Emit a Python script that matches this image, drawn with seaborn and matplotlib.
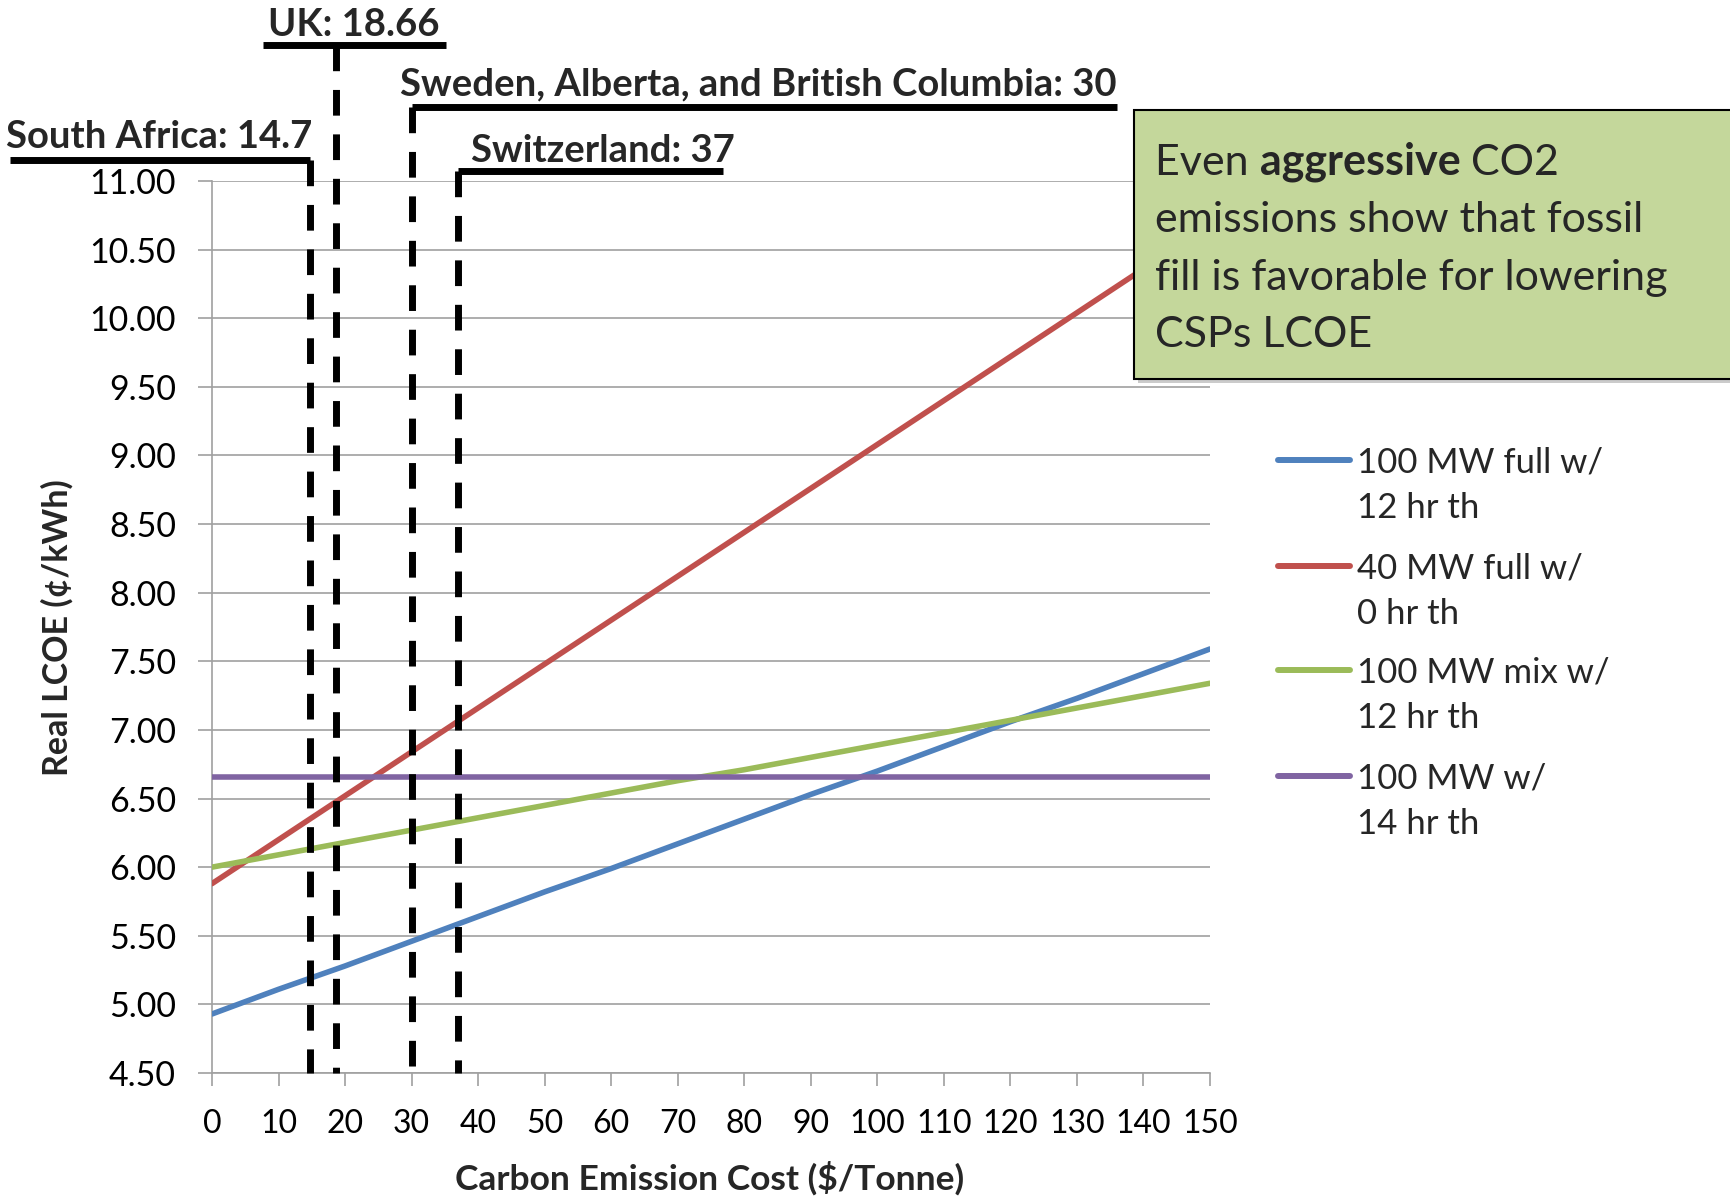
import matplotlib
matplotlib.use("Agg")
import matplotlib.pyplot as plt
import seaborn as sns
import pandas as pd
import numpy as np
from matplotlib.lines import Line2D
from matplotlib.patches import Rectangle
from matplotlib.ticker import FormatStrFormatter

# Carbon emission cost ($/tonne) and real LCOE (cents/kWh) for each plant configuration
carbon_cost = [0, 10, 20, 30, 40, 50, 60, 70, 80, 90, 100, 110, 120, 130, 140, 150]
lcoe_100mw_full_12hr = [4.93, 5.11, 5.28, 5.46, 5.64, 5.82, 5.99, 6.17, 6.35, 6.53, 6.70, 6.88, 7.06, 7.23, 7.41, 7.59]
lcoe_40mw_full_0hr = [5.88, 6.20, 6.52, 6.84, 7.16, 7.48, 7.80, 8.12, 8.44, 8.76, 9.08, 9.40, 9.72, 10.04, 10.36, 10.68]
lcoe_100mw_mix_12hr = [6.00, 6.09, 6.18, 6.27, 6.36, 6.45, 6.54, 6.63, 6.71, 6.80, 6.89, 6.98, 7.07, 7.16, 7.25, 7.34]
lcoe_100mw_14hr = [6.66, 6.66, 6.66, 6.66, 6.66, 6.66, 6.66, 6.66, 6.66, 6.66, 6.66, 6.66, 6.66, 6.66, 6.66, 6.66]

series_names = ["100 MW full w/\n12 hr th", "40 MW full w/\n0 hr th",
                "100 MW mix w/\n12 hr th", "100 MW w/\n14 hr th"]
series_colors = ["#4F81BD", "#C0504D", "#9BBB59", "#8064A2"]

# Carbon prices in force in several jurisdictions
policy_labels = ["South Africa: 14.7", "UK: 18.66",
                 "Sweden, Alberta, and British Columbia: 30", "Switzerland: 37"]
policy_prices = [14.7, 18.66, 30, 37]

y_ticks = [4.5, 5.0, 5.5, 6.0, 6.5, 7.0, 7.5, 8.0, 8.5, 9.0, 9.5, 10.0, 10.5, 11.0]
x_ticks = carbon_cost

note_lines = ["emissions show that fossil", "fill is favorable for lowering", "CSPs LCOE"]

# ---------------------------------------------------------------- styling
sns.set_theme(style="white")
plt.rcParams["font.family"] = ["Lato", "DejaVu Sans"]

W, H = 1730, 1203
fig = plt.figure(figsize=(W / 100, H / 100), dpi=100)
fig.patch.set_facecolor("white")


def fx(px):
    return px / W


def fy(py):
    return 1 - py / H


ax_l, ax_r, ax_t, ax_b = 212, 1210, 181, 1073
ax = fig.add_axes([fx(ax_l), fy(ax_b), fx(ax_r - ax_l), (ax_b - ax_t) / H])
ax.set_facecolor("white")

grid_col = "#A0A0A0"

frames = []
for name, vals in zip(series_names,
                      [lcoe_100mw_full_12hr, lcoe_40mw_full_0hr,
                       lcoe_100mw_mix_12hr, lcoe_100mw_14hr]):
    frames.append(pd.DataFrame({"cost": carbon_cost, "lcoe": vals, "series": name}))
df = pd.concat(frames, ignore_index=True)

sns.lineplot(data=df, x="cost", y="lcoe", hue="series",
             palette=dict(zip(series_names, series_colors)),
             linewidth=4.0, legend=False, ax=ax, zorder=3)

ax.set_xlim(0, 150)
ax.set_ylim(4.5, 11.0)
ax.set_xticks(x_ticks)
ax.set_yticks(y_ticks)
ax.yaxis.set_major_formatter(FormatStrFormatter("%.2f"))
ax.yaxis.grid(True, color=grid_col, linewidth=1.2)
ax.xaxis.grid(False)
ax.set_axisbelow(True)
for s in ["top", "right"]:
    ax.spines[s].set_visible(False)
for s in ["left", "bottom"]:
    ax.spines[s].set_color(grid_col)
    ax.spines[s].set_linewidth(1.2)

ax.tick_params(axis="y", direction="out", length=10, width=1.2, color=grid_col,
               pad=16, labelsize=24.5, labelcolor="black", left=True)
ax.tick_params(axis="x", direction="out", length=9, width=1.2, color=grid_col,
               pad=17, labelsize=23, labelcolor="black", bottom=True)

ax.set_xlabel("Carbon Emission Cost ($/Tonne)", fontsize=25.5, fontweight="bold")
ax.set_ylabel("Real LCOE (¢/kWh)", fontsize=24.5, fontweight="bold")
ax.xaxis.set_label_coords(0.499, -0.1177)
ax.xaxis.label.set_verticalalignment("center")
ax.yaxis.set_label_coords(-0.1553, 0.499)
ax.yaxis.label.set_verticalalignment("center")

# ---------------------------------------------------------------- policy markers
bar_y = [11.15, 11.99, 11.54, 11.07]
bar_x = [(-30.4, 14.7), (7.7, 35.2), (30, 136), (37, 76.8)]
text_x = [-30.9, 8.4, 28.3, 38.9]
text_y = [11.24, 12.06, 11.62, 11.135]

for price, by, (bx0, bx1), tx, ty, lab in zip(policy_prices, bar_y, bar_x,
                                               text_x, text_y, policy_labels):
    ax.plot([price, price], [by, 4.5], color="black", linewidth=5,
            dashes=(3.7, 2.7), dash_capstyle="butt", clip_on=False, zorder=6)
    ax.plot([bx0, bx1], [by, by], color="black", linewidth=5,
            solid_capstyle="butt", clip_on=False, zorder=6)
    ax.text(tx, ty, lab, fontsize=27.5, fontweight="bold", ha="left",
            va="baseline", clip_on=False, zorder=7)

# ---------------------------------------------------------------- legend
hx0, hx1, tx_leg = 1278, 1350, 1357
row_y = [460, 566, 670, 776]
line_gap = 46
for name, col, ry in zip(series_names, series_colors, row_y):
    fig.add_artist(Line2D([fx(hx0), fx(hx1)], [fy(ry), fy(ry)], color=col,
                          linewidth=4.3, solid_capstyle="round"))
    for k, part in enumerate(name.split("\n")):
        fig.text(fx(tx_leg), fy(ry + k * line_gap + 12), part, fontsize=25,
                 ha="left", va="baseline")

# ---------------------------------------------------------------- note box
bx_l, bx_t, bx_b = 1134, 110, 379
shadow = Rectangle((fx(bx_l + 4), fy(bx_b + 4)), fx(W - bx_l), (bx_b - bx_t) / H,
                   transform=fig.transFigure, facecolor="#8c8c8c", alpha=0.45,
                   edgecolor="none", zorder=8)
box = Rectangle((fx(bx_l), fy(bx_b)), fx(W - bx_l + 20), (bx_b - bx_t) / H,
                transform=fig.transFigure, facecolor="#C4D79B",
                edgecolor="black", linewidth=1.5, zorder=9)
fig.add_artist(shadow)
fig.add_artist(box)

note_x = 1155
baselines = [175, 232, 290, 347]
renderer = fig.canvas.get_renderer()
x_cur = fx(note_x)
for part, weight in [("Even ", "normal"), ("aggressive", "bold"), (" CO2", "normal")]:
    t = fig.text(x_cur, fy(baselines[0]), part, fontsize=31, fontweight=weight,
                 ha="left", va="baseline", zorder=10)
    bb = t.get_window_extent(renderer)
    x_cur += bb.width / W
for line, b in zip(note_lines, baselines[1:]):
    fig.text(fx(note_x), fy(b), line, fontsize=31, ha="left", va="baseline", zorder=10)

fig.savefig("out.png", dpi=100, facecolor="white")
